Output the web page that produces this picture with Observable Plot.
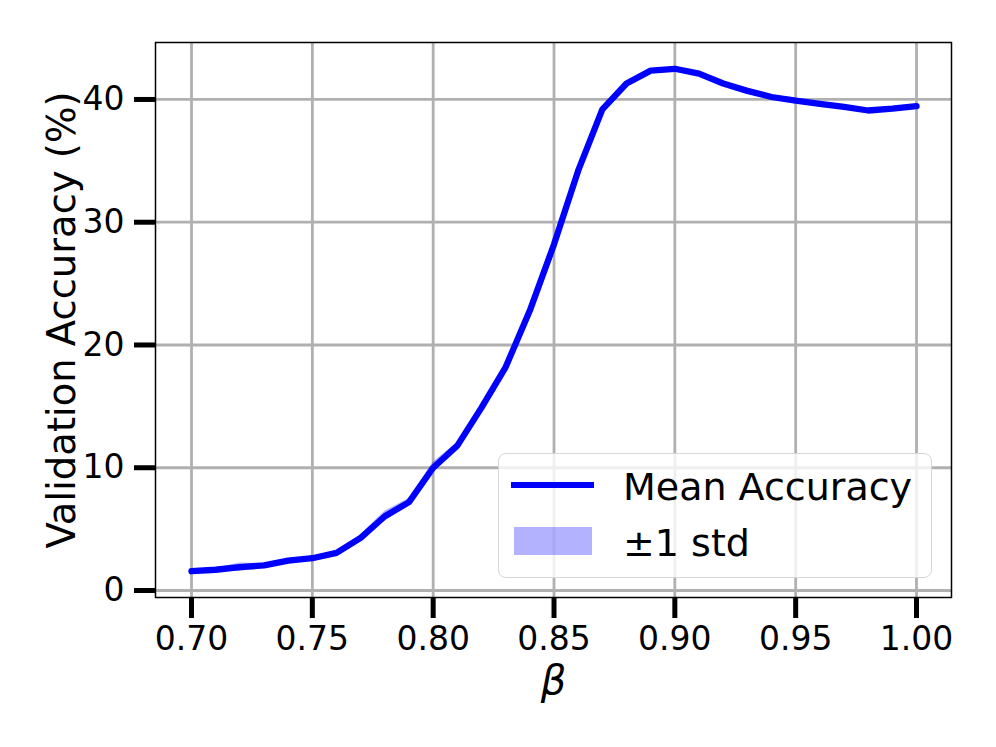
<!DOCTYPE html>
<html>
<head>
<meta charset="utf-8">
<script src="https://cdn.jsdelivr.net/npm/d3@7"></script>
<script src="https://cdn.jsdelivr.net/npm/@observablehq/plot@0.6"></script>
<style>
  html, body { margin: 0; padding: 0; background: #fff; }
  #wrap { position: relative; width: 996px; height: 747px; font-family: "DejaVu Sans", sans-serif; }
  #legend {
    position: absolute; left: 498px; top: 453px; width: 434px; height: 125px;
    background: rgba(255,255,255,0.8); border: 1.5px solid #d6d6d6; border-radius: 8px;
    box-sizing: border-box;
  }
  .lg-text { position: absolute; left: 124px; font-size: 38px; color: #000; white-space: nowrap; line-height: 1; }
</style>
</head>
<body>
<div id="wrap">
  <div id="chart"></div>
  <div id="legend">
    <div style="position:absolute;left:12px;top:28px;width:83px;height:6px;background:#0000ff;"></div>
    <div class="lg-text" style="top:14px;">Mean Accuracy</div>
    <div style="position:absolute;left:15px;top:73px;width:78px;height:28px;background:rgba(0,0,255,0.3);"></div>
    <div class="lg-text" style="top:70px;">±1 std</div>
  </div>
</div>
<script>
const beta = [0.70,0.71,0.72,0.73,0.74,0.75,0.76,0.77,0.78,0.79,0.80,0.81,0.82,0.83,0.84,0.85,0.86,0.87,0.88,0.89,0.90,0.91,0.92,0.93,0.94,0.95,0.96,0.97,0.98,0.99,1.00];
const meanAcc = [1.57,1.69,1.90,2.04,2.44,2.63,3.07,4.29,6.05,7.2,10.0,11.8,14.9,18.2,22.8,28.2,34.2,39.2,41.3,42.35,42.5,42.1,41.3,40.7,40.2,39.9,39.65,39.4,39.1,39.25,39.45];
const stdAcc = [0.10,0.12,0.35,0.15,0.12,0.12,0.18,0.25,0.40,0.30,0.45,0.25,0.20,0.15,0.15,0.15,0.15,0.12,0.12,0.10,0.10,0.10,0.10,0.10,0.10,0.10,0.10,0.10,0.10,0.10,0.10];
const xTicks = [0.70,0.75,0.80,0.85,0.90,0.95,1.00];
const yTicks = [0,10,20,30,40];
const xLabel = "β";
const yLabel = "Validation Accuracy (%)";

const data = beta.map((b, i) => ({beta: b, mean: meanAcc[i], lo: meanAcc[i] - stdAcc[i], hi: meanAcc[i] + stdAcc[i]}));

const chart = Plot.plot({
  width: 996,
  height: 747,
  marginLeft: 155,
  marginRight: 45,
  marginTop: 42,
  marginBottom: 150,
  style: {fontFamily: "DejaVu Sans, sans-serif", fontSize: "32px", color: "#000", background: "#fff"},
  x: {domain: [0.6851, 1.01448]},
  y: {domain: [-0.57, 44.64]},
  marks: [
    Plot.gridX(xTicks, {stroke: "#b0b0b0", strokeOpacity: 1, strokeWidth: 2.8}),
    Plot.gridY(yTicks, {stroke: "#b0b0b0", strokeOpacity: 1, strokeWidth: 2.8}),
    Plot.areaY(data, {x: "beta", y1: "lo", y2: "hi", fill: "#0000ff", fillOpacity: 0.3}),
    Plot.lineY(data, {x: "beta", y: "mean", stroke: "#0000ff", strokeWidth: 6.3, strokeLinejoin: "round"}),
    Plot.frame({stroke: "#000", strokeWidth: 1.5}),
    Plot.axisX(xTicks, {tickSize: 21, tickPadding: 8, strokeWidth: 5, tickFormat: d3.format(".2f"), label: null, fontSize: 33}),
    Plot.axisY(yTicks, {tickSize: 21, tickPadding: 10, strokeWidth: 5, tickFormat: d3.format("d"), label: null, fontSize: 33}),
    Plot.text([xLabel], {frameAnchor: "bottom", dy: 96, text: d => d, fontSize: 40, fontStyle: "italic"}),
    Plot.text([yLabel], {frameAnchor: "left", dx: -93, rotate: -90, textAnchor: "middle", text: d => d, fontSize: 38.5})
  ]
});
document.getElementById("chart").appendChild(chart);
</script>
</body>
</html>
